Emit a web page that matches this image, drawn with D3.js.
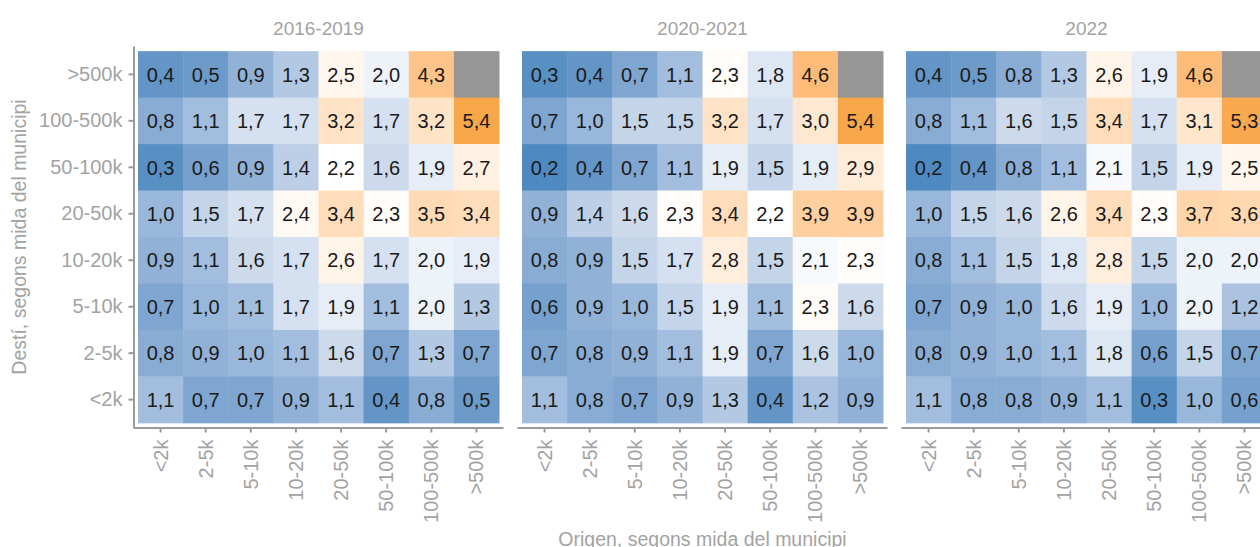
<!DOCTYPE html>
<html>
<head>
<meta charset="utf-8">
<script src="https://cdn.jsdelivr.net/npm/d3@7"></script>
<style>
  body { margin: 0; background: #fff; }
  text { font-family: "Liberation Sans", Arial, sans-serif; }
</style>
</head>
<body>
<svg id="chart"></svg>
<script>
// categories
var sizes = ["<2k", "2-5k", "5-10k", "10-20k", "20-50k", "50-100k", "100-500k", ">500k"];
var periods = ["2016-2019", "2020-2021", "2022"];

// values: rows = destí (from >500k down to <2k), columns = origen (<2k ... >500k)
var rowsTopDown = [">500k", "100-500k", "50-100k", "20-50k", "10-20k", "5-10k", "2-5k", "<2k"];

var v2016 = [
    [0.4, 0.5, 0.9, 1.3, 2.5, 2.0, 4.3, null],
    [0.8, 1.1, 1.7, 1.7, 3.2, 1.7, 3.2, 5.4],
    [0.3, 0.6, 0.9, 1.4, 2.2, 1.6, 1.9, 2.7],
    [1.0, 1.5, 1.7, 2.4, 3.4, 2.3, 3.5, 3.4],
    [0.9, 1.1, 1.6, 1.7, 2.6, 1.7, 2.0, 1.9],
    [0.7, 1.0, 1.1, 1.7, 1.9, 1.1, 2.0, 1.3],
    [0.8, 0.9, 1.0, 1.1, 1.6, 0.7, 1.3, 0.7],
    [1.1, 0.7, 0.7, 0.9, 1.1, 0.4, 0.8, 0.5]
];
var v2020 = [
    [0.3, 0.4, 0.7, 1.1, 2.3, 1.8, 4.6, null],
    [0.7, 1.0, 1.5, 1.5, 3.2, 1.7, 3.0, 5.4],
    [0.2, 0.4, 0.7, 1.1, 1.9, 1.5, 1.9, 2.9],
    [0.9, 1.4, 1.6, 2.3, 3.4, 2.2, 3.9, 3.9],
    [0.8, 0.9, 1.5, 1.7, 2.8, 1.5, 2.1, 2.3],
    [0.6, 0.9, 1.0, 1.5, 1.9, 1.1, 2.3, 1.6],
    [0.7, 0.8, 0.9, 1.1, 1.9, 0.7, 1.6, 1.0],
    [1.1, 0.8, 0.7, 0.9, 1.3, 0.4, 1.2, 0.9]
];
var v2022 = [
    [0.4, 0.5, 0.8, 1.3, 2.6, 1.9, 4.6, null],
    [0.8, 1.1, 1.6, 1.5, 3.4, 1.7, 3.1, 5.3],
    [0.2, 0.4, 0.8, 1.1, 2.1, 1.5, 1.9, 2.5],
    [1.0, 1.5, 1.6, 2.6, 3.4, 2.3, 3.7, 3.6],
    [0.8, 1.1, 1.5, 1.8, 2.8, 1.5, 2.0, 2.0],
    [0.7, 0.9, 1.0, 1.6, 1.9, 1.0, 2.0, 1.2],
    [0.8, 0.9, 1.0, 1.1, 1.8, 0.6, 1.5, 0.7],
    [1.1, 0.8, 0.8, 0.9, 1.1, 0.3, 1.0, 0.6]
];
var matrices = [v2016, v2020, v2022];

window.onload = function() {

    var W = 1260, H = 547;
    var panelW = 370, panelH = 381;
    var marginTop = 46.5, marginLeft = 133.5, panelGap = 14;
    var grey = "#a3a3a3";

    var svg = d3.select("#chart").attr("width", W).attr("height", H);

    var x = d3.scaleBand().domain(sizes).range([0, panelW]).paddingOuter(0.1);
    var y = d3.scaleBand().domain(rowsTopDown).range([0, panelH]).paddingOuter(0.1);
    var panelX = d3.scaleBand().domain(periods)
        .range([marginLeft, marginLeft + 3 * panelW + 3 * panelGap]);

    var color = d3.scaleLinear()
        .domain([0.2, 2.2, 5.4])
        .range(["#4e8ac1", "#ffffff", "#f8a64a"])
        .interpolate(d3.interpolateLab);

    var fmt = d3.formatLocale({decimal: ",", thousands: ".", grouping: [3], currency: ["", "€"]}).format(".1f");

    periods.forEach(function(p, pi) {
        var g = svg.append("g").attr("transform", "translate(" + panelX(p) + "," + marginTop + ")");
        var cells = [];
        matrices[pi].forEach(function(row, ri) {
            row.forEach(function(v, ci) {
                cells.push({dest: rowsTopDown[ri], orig: sizes[ci], value: v});
            });
        });

        g.selectAll("rect.cell")
            .data(cells)
            .enter().append("rect")
            .attr("class", "cell")
            .attr("x", function(d) { return x(d.orig); })
            .attr("y", function(d) { return y(d.dest); })
            .attr("width", x.bandwidth() + 0.5)
            .attr("height", y.bandwidth() + 0.5)
            .style("fill", function(d) { return d.value == null ? "#969696" : color(d.value); });

        g.selectAll("text.val")
            .data(cells.filter(function(d) { return d.value != null; }))
            .enter().append("text")
            .attr("class", "val")
            .attr("x", function(d) { return x(d.orig) + x.bandwidth() / 2; })
            .attr("y", function(d) { return y(d.dest) + y.bandwidth() / 2; })
            .attr("dy", "0.36em")
            .attr("text-anchor", "middle")
            .style("font-size", "20px")
            .style("fill", "#1a1a1a")
            .text(function(d) { return fmt(d.value); });

        // strip title
        g.append("text")
            .attr("x", panelW / 2)
            .attr("y", -12)
            .attr("text-anchor", "middle")
            .style("font-size", "19px")
            .style("fill", grey)
            .text(p);

        // bottom axis
        var xa = g.append("g")
            .attr("transform", "translate(0," + panelH + ")")
            .attr("font-size", 20)
            .attr("font-family", "Liberation Sans, Arial, sans-serif")
            .call(d3.axisBottom(x).tickSize(5).tickPadding(4));
        xa.attr("font-size", 20).attr("font-family", "Liberation Sans, Arial, sans-serif");
        xa.select(".domain").attr("d", "M0,0.5H" + panelW).style("stroke", "#9a9a9a").style("stroke-width", 2);
        xa.selectAll(".tick line").style("stroke", "#9a9a9a").style("stroke-width", 2);
        xa.selectAll(".tick text")
            .attr("transform", "rotate(-90)")
            .attr("x", -12)
            .attr("y", 0)
            .attr("dy", "0.35em")
            .attr("text-anchor", "end")
            .attr("font-size", 20)
            .style("font-size", "20px")
            .style("fill", grey);

        if (pi === 0) {
            var ya = g.append("g").call(d3.axisLeft(y).tickSize(5).tickPadding(6));
            ya.attr("font-size", 20).attr("font-family", "Liberation Sans, Arial, sans-serif");
            ya.select(".domain").attr("d", "M0.5,0V" + panelH).style("stroke", "#9a9a9a").style("stroke-width", 2);
            ya.selectAll(".tick line").style("stroke", "#9a9a9a").style("stroke-width", 2);
            ya.selectAll(".tick text")
                .style("font-size", "20px")
                .style("fill", grey);
        }
    });

    // axis titles
    svg.append("text")
        .attr("transform", "translate(26," + (marginTop + panelH / 2) + ") rotate(-90)")
        .attr("text-anchor", "middle")
        .style("font-size", "19.5px")
        .style("fill", grey)
        .text("Destí, segons mida del municipi");

    svg.append("text")
        .attr("x", marginLeft + (3 * panelW + 2 * panelGap) / 2)
        .attr("y", 546)
        .attr("text-anchor", "middle")
        .style("font-size", "19.5px")
        .style("fill", grey)
        .text("Origen, segons mida del municipi");
};
</script>
</body>
</html>
